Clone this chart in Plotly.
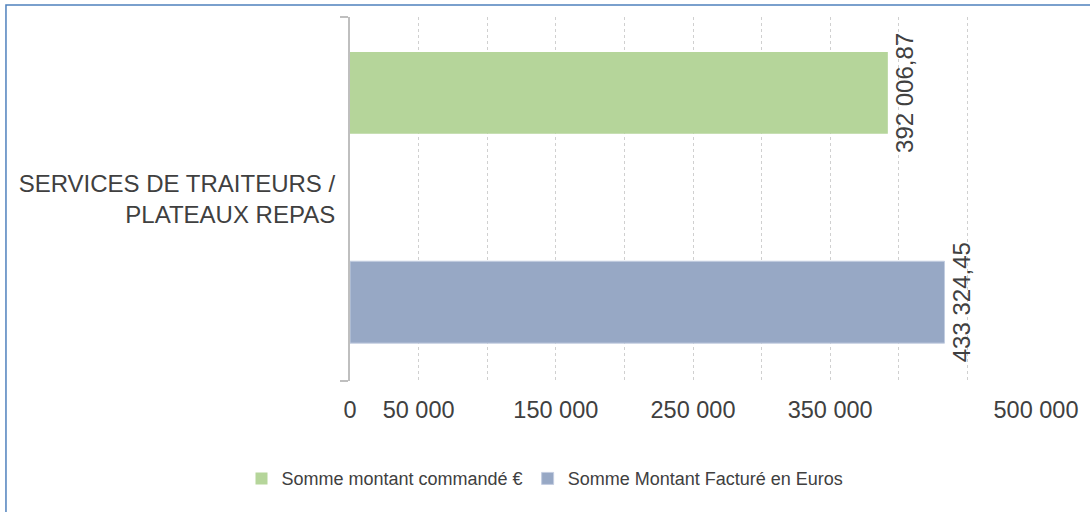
import plotly.graph_objects as go

# data
categories = ["SERVICES DE TRAITEURS /<br>PLATEAUX REPAS"]
montant_commande = [392006.87]
montant_facture = [433324.45]
series_names = ["Somme montant commandé €", "Somme Montant Facturé en Euros"]
tick_values = [0, 50000, 100000, 150000, 200000, 250000, 300000, 350000, 400000, 450000, 500000]
tick_labels = ["0", "50 000", "", "150 000", "", "250 000", "", "350 000", "", "", "500 000"]

GREEN = "#B5D59A"
BLUE = "#97A8C5"
TEXT = "#404040"
FONT = "Liberation Sans, Arial, sans-serif"

fig = go.Figure()
fig.add_trace(go.Bar(y=categories, x=montant_commande, orientation="h",
                     name=series_names[0], marker=dict(color=GREEN, line=dict(width=0)),
                     width=0.225, offset=0.179,
                     texttemplate="%{x:,.2f}", textposition="outside", textangle=-90,
                     constraintext="none", cliponaxis=False,
                     textfont=dict(size=24, color=TEXT, family=FONT)))
fig.add_trace(go.Bar(y=categories, x=montant_facture, orientation="h",
                     name=series_names[1], marker=dict(color=BLUE, line=dict(width=1, color="#C3CDE0")),
                     width=0.225, offset=-0.396,
                     texttemplate="%{x:,.2f}", textposition="outside", textangle=-90,
                     constraintext="none", cliponaxis=False,
                     textfont=dict(size=24, color=TEXT, family=FONT)))

fig.update_layout(
    width=1090, height=512,
    margin=dict(l=350, r=52, t=17, b=131),
    paper_bgcolor="white", plot_bgcolor="white",
    separators=", ",
    font=dict(family=FONT, color=TEXT),
    barmode="overlay",
    showlegend=True,
    legend=dict(orientation="h", xref="container", yref="container",
                x=0.5, xanchor="center", y=0.065, yanchor="middle",
                font=dict(size=18, color=TEXT), traceorder="normal"),
    shapes=[dict(type="rect", xref="paper", yref="paper",
                 x0=-0.5015, x1=1.1, y0=-0.5, y1=1.033,
                 line=dict(color="#4F81BD", width=1.5), layer="above")],
)
fig.update_xaxes(range=[0, 500000], tickvals=tick_values, ticktext=tick_labels,
                 showgrid=True, gridcolor="#D0D0D0", griddash="dot", gridwidth=1,
                 showline=False, zeroline=False, ticks="",
                 tickfont=dict(size=23.5, color=TEXT, family=FONT),
                 ticklabelstandoff=12)
fig.update_yaxes(showline=True, linecolor="#BFBFBF", linewidth=2,
                 ticks="outside", tickson="boundaries", ticklen=8, tickcolor="#BFBFBF",
                 tickwidth=2, showgrid=False,
                 tickfont=dict(size=24, color=TEXT, family=FONT), ticklabelstandoff=8)

# page body margin would shift the figure, remove it
fig.write_html("out.html", config={"displayModeBar": False},
               post_script="document.body.style.margin='0';")
